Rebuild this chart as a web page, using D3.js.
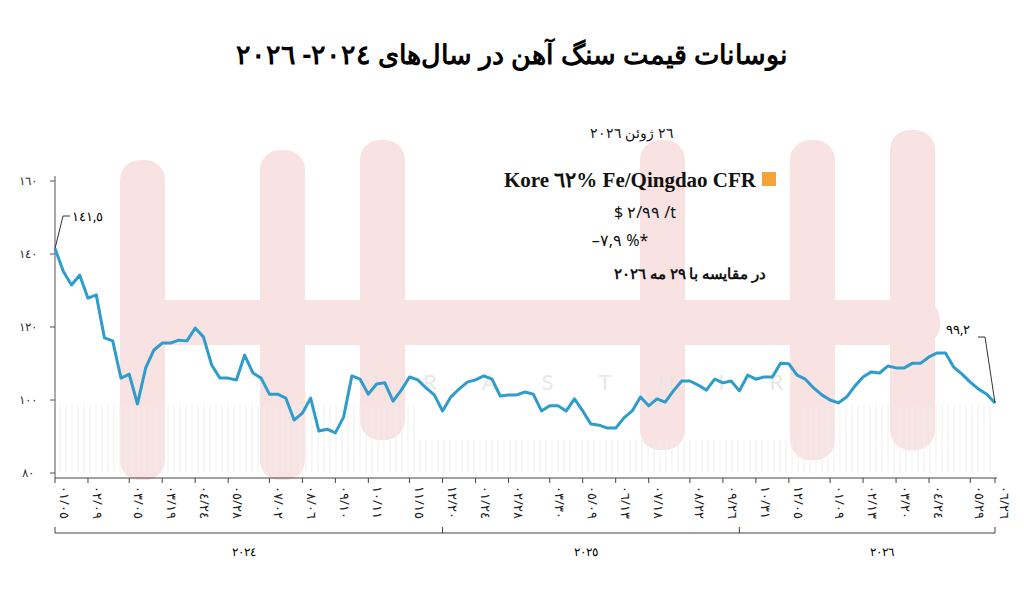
<!DOCTYPE html>
<html><head><meta charset="utf-8">
<script src="https://cdn.jsdelivr.net/npm/d3@7"></script>
<style>body{margin:0;background:#fff}svg{display:block}</style>
</head><body>
<script>
// weekly iron ore price, USD/t
var prices = [141.5,135.3,131.5,134.2,127.9,128.8,117.0,116.2,106.0,107.1,98.9,108.8,113.7,115.6,115.6,116.4,116.2,119.7,117.3,109.6,
  106.0,106.0,105.5,112.3,107.4,106.0,101.6,101.6,100.5,94.5,96.4,100.5,91.5,92.0,91.0,95.3,106.6,105.7,101.6,104.4,
  104.7,99.7,102.7,106.3,105.5,103.3,101.4,97.0,100.8,103.0,104.9,105.5,106.6,105.7,101.1,101.4,101.4,102.2,101.6,97.0,
  98.4,98.4,97.0,100.3,97.0,93.4,93.1,92.3,92.3,95.1,97.0,100.8,98.4,100.3,99.4,102.5,105.2,105.2,104.1,102.7,
  105.7,104.7,105.2,102.5,106.8,105.7,106.3,106.3,110.1,109.9,106.8,105.7,103.3,101.4,100.0,99.2,100.8,103.8,106.3,107.7,
  107.4,109.3,108.8,108.8,110.1,110.1,111.8,112.9,112.9,109.0,107.1,104.9,103.0,101.6,99.2];
var tickLabels = ['01/05','02/09','03/05','03/19','04/24','05/28','07/02','08/06','09/10','10/11','11/15','12/20',
  '01/24','02/28','03/30','05/09','06/13','07/18','08/22','09/26','10/31','12/05',
  '01/09','02/13','03/20','04/24','05/29','06/26'];
var yTicks = [80, 100, 120, 140, 160];
var years = ['2024', '2025', '2026'];
var yearBreaks = [0, 47, 83, 114];

var fa = function(n) { return String(n).replace(/\d/g, function(d) { return '۰۱۲۳٤٥٦۷۸۹'[d]; }); };

var W = 1024, H = 589;
var svg = d3.select('body').append('svg').attr('width', W).attr('height', H);

var x = d3.scaleLinear().domain([0, prices.length - 1]).range([55, 995]);
var y = d3.scaleLinear().domain([80, 160]).range([473, 181]);

// watermark
var wm = svg.append('g').attr('fill', '#f7dcdb').attr('opacity', 0.8);
[[120, 160, 45, 320], [260, 150, 45, 330], [360, 140, 45, 300], [640, 140, 45, 310], [790, 140, 45, 320], [890, 130, 45, 320]].forEach(function(r) {
    wm.append('rect').attr('x', r[0]).attr('y', r[1]).attr('width', r[2]).attr('height', r[3]).attr('rx', 20);
});
wm.append('rect').attr('x', 120).attr('y', 300).attr('width', 820).attr('height', 45).attr('rx', 20);
svg.append('text').attr('x', 600).attr('y', 390).attr('text-anchor', 'middle')
    .attr('font-family', 'Lato').attr('font-size', 22).attr('letter-spacing', 45)
    .attr('fill', '#e8e8e8').text('IRASTNIR');

// faint grey bars at bottom
var bg = svg.append('g').attr('stroke', '#efefef').attr('stroke-width', 1);
d3.range(60, 995, 6).forEach(function(px) {
    bg.append('line').attr('x1', px).attr('x2', px).attr('y1', px < 420 || px > 800 ? 405 : 440).attr('y2', 473);
});

// title
svg.append('text').attr('x', 512).attr('y', 64).attr('text-anchor', 'middle').attr('direction', 'rtl')
    .attr('font-family', 'Noto Sans').attr('font-weight', 'bold').attr('font-size', 27)
    .text('نوسانات قیمت سنگ آهن در سال‌های ' + fa(2024) + '- ' + fa(2026));

// y axis
var ya = svg.append('g');
ya.append('line').attr('x1', 55).attr('x2', 55).attr('y1', 176).attr('y2', 478).attr('stroke', '#555');
yTicks.forEach(function(t) {
    ya.append('line').attr('x1', 50).attr('x2', 55).attr('y1', y(t)).attr('y2', y(t)).attr('stroke', '#555');
    ya.append('text').attr('x', 28).attr('y', y(t) + 4).attr('text-anchor', 'middle')
        .attr('font-family', 'Noto Sans').attr('font-size', 12).attr('fill', '#333').text(fa(t));
});

// x axis
var xa = svg.append('g');
xa.append('line').attr('x1', 55).attr('x2', 997).attr('y1', 478).attr('y2', 478).attr('stroke', '#444');
tickLabels.forEach(function(l, i) {
    var idx = i < tickLabels.length - 1 ? Math.round(i * 4.25) : prices.length - 1;
    var px = x(idx);
    xa.append('line').attr('x1', px).attr('x2', px).attr('y1', 478).attr('y2', 483).attr('stroke', '#444');
    xa.append('text').attr('transform', 'translate(' + (px + 5) + ',486) rotate(90)')
        .attr('font-family', 'Noto Sans').attr('font-size', 13).attr('fill', '#222').text(fa(l));
});
// year brackets
xa.append('line').attr('x1', 55).attr('x2', 995).attr('y1', 533).attr('y2', 533).attr('stroke', '#444');
yearBreaks.forEach(function(b) {
    xa.append('line').attr('x1', x(b)).attr('x2', x(b)).attr('y1', 527).attr('y2', 533).attr('stroke', '#444');
});
years.forEach(function(yr, i) {
    xa.append('text').attr('x', (x(yearBreaks[i]) + x(yearBreaks[i + 1])) / 2 + (i === 2 ? 15 : -5)).attr('y', 556)
        .attr('text-anchor', 'middle').attr('font-family', 'Noto Sans').attr('font-size', 12).text(fa(yr));
});

// line
svg.append('path').datum(prices)
    .attr('d', d3.line().x(function(d, i) { return x(i); }).y(function(d) { return y(d); }))
    .attr('fill', 'none').attr('stroke', '#2e9ccc').attr('stroke-width', 3).attr('stroke-linejoin', 'round');

// callouts
var last = prices.length - 1;
svg.append('path').attr('d', 'M' + x(0) + ',' + y(prices[0]) + 'L63,216L70,216').attr('fill', 'none').attr('stroke', '#333');
svg.append('text').attr('x', 72).attr('y', 221).attr('font-family', 'Noto Sans').attr('font-size', 13).text(fa('141') + ',' + fa('5'));
svg.append('path').attr('d', 'M' + x(last) + ',' + y(prices[last]) + 'L985,337L978,337').attr('fill', 'none').attr('stroke', '#333');
svg.append('text').attr('x', 946).attr('y', 334).attr('font-family', 'Noto Sans').attr('font-size', 13).text(fa('99') + ',' + fa('2'));

// annotation block
var an = svg.append('g').attr('font-family', 'Noto Sans').attr('fill', '#111');
an.append('text').attr('x', 632).attr('y', 138).attr('text-anchor', 'middle').attr('direction', 'rtl').attr('font-size', 14).text(fa(26) + ' ژوئن ' + fa(2026));
an.append('text').attr('x', 756).attr('y', 187).attr('text-anchor', 'end').attr('font-size', 21).attr('font-weight', 'bold')
    .attr('font-family', 'Liberation Serif').text('Kore ' + fa(62) + '% Fe/Qingdao CFR');
an.append('rect').attr('x', 762).attr('y', 172).attr('width', 14).attr('height', 14).attr('fill', '#f6a43a');
an.append('text').attr('x', 645).attr('y', 218).attr('text-anchor', 'middle').attr('font-size', 16).text('$ ' + fa('2/99') + ' /t');
an.append('text').attr('x', 620).attr('y', 246).attr('text-anchor', 'middle').attr('font-size', 16).text('–' + fa('7,9') + ' %*');
an.append('text').attr('x', 690).attr('y', 279).attr('text-anchor', 'middle').attr('direction', 'rtl').attr('font-size', 15).attr('font-weight', 'bold').text('در مقایسه با ' + fa(29) + ' مه ' + fa(2026));
</script>
</body></html>
